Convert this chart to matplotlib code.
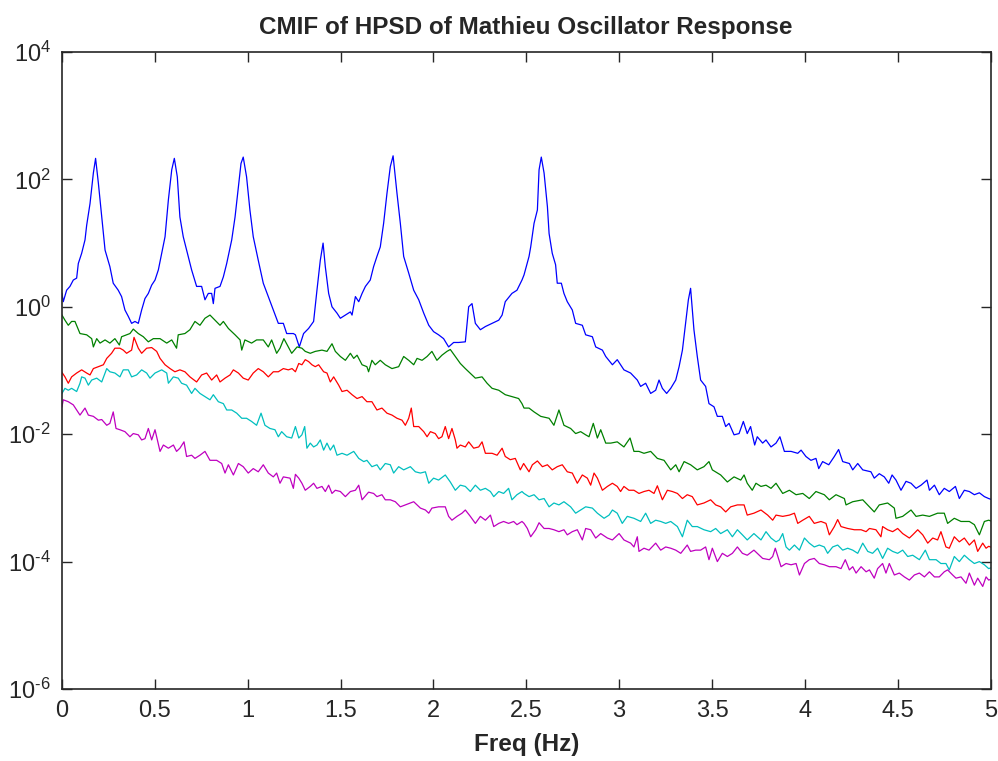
import numpy as np
import matplotlib
matplotlib.use('Agg')
import matplotlib.pyplot as plt
from matplotlib.ticker import NullLocator, FixedLocator

# (frequency in Hz, log10 of singular value)
blue = [(0.000, 0.21), (0.007, 0.08), (0.025, 0.26), (0.043, 0.32), (0.061, 0.42), (0.079, 0.45), (0.088, 0.68),
        (0.106, 0.84), (0.124, 1.05), (0.133, 1.28), (0.151, 1.62), (0.169, 2.10), (0.181, 2.33), (0.196, 1.94),
        (0.214, 1.41), (0.232, 0.89), (0.258, 0.63), (0.276, 0.37), (0.303, 0.26), (0.321, 0.16), (0.339, -0.05),
        (0.357, -0.15), (0.375, -0.26), (0.393, -0.23), (0.411, -0.26), (0.429, -0.05), (0.447, 0.13), (0.465, 0.21),
        (0.483, 0.34), (0.501, 0.42), (0.519, 0.58), (0.537, 0.84), (0.555, 1.10), (0.573, 1.68), (0.591, 2.15),
        (0.605, 2.33), (0.621, 2.04), (0.635, 1.41), (0.653, 1.10), (0.671, 0.89), (0.698, 0.58), (0.725, 0.32),
        (0.752, 0.32), (0.770, 0.11), (0.788, 0.21), (0.806, 0.21), (0.815, 0.05), (0.824, 0.29), (0.851, 0.32),
        (0.869, 0.47), (0.887, 0.68), (0.914, 1.05), (0.932, 1.41), (0.950, 1.89), (0.964, 2.25), (0.976, 2.35),
        (0.994, 2.04), (1.012, 1.52), (1.030, 1.10), (1.057, 0.73), (1.084, 0.37), (1.111, 0.16), (1.138, -0.05),
        (1.165, -0.26), (1.192, -0.26), (1.210, -0.42), (1.246, -0.42), (1.257, -0.44), (1.278, -0.63), (1.301, -0.42),
        (1.328, -0.34), (1.355, -0.23), (1.373, 0.26), (1.391, 0.73), (1.406, 1.00), (1.418, 0.63), (1.436, 0.21),
        (1.454, 0.00), (1.481, -0.10), (1.499, -0.18), (1.526, -0.13), (1.553, -0.08), (1.562, -0.13), (1.580, 0.16),
        (1.598, 0.08), (1.616, 0.21), (1.634, 0.32), (1.660, 0.42), (1.678, 0.63), (1.696, 0.79), (1.714, 0.94),
        (1.732, 1.31), (1.750, 1.78), (1.768, 2.20), (1.783, 2.37), (1.804, 1.78), (1.822, 1.31), (1.840, 0.79),
        (1.867, 0.53), (1.894, 0.26), (1.921, 0.11), (1.948, -0.10), (1.975, -0.29), (2.001, -0.39), (2.028, -0.44),
        (2.055, -0.50), (2.082, -0.63), (2.109, -0.56), (2.136, -0.56), (2.172, -0.55), (2.190, 0.00), (2.208, 0.05),
        (2.226, -0.26), (2.253, -0.36), (2.280, -0.31), (2.316, -0.26), (2.352, -0.21), (2.370, -0.13), (2.387, 0.08),
        (2.423, 0.21), (2.450, 0.26), (2.477, 0.42), (2.488, 0.50), (2.515, 0.79), (2.524, 0.94), (2.542, 1.31),
        (2.560, 1.52), (2.569, 2.15), (2.581, 2.35), (2.596, 2.10), (2.614, 1.57), (2.623, 1.15), (2.640, 0.84),
        (2.658, 0.66), (2.667, 0.37), (2.689, 0.37), (2.703, 0.21), (2.721, 0.08), (2.748, -0.05), (2.766, -0.26),
        (2.802, -0.29), (2.820, -0.44), (2.856, -0.47), (2.874, -0.63), (2.910, -0.68), (2.928, -0.78), (2.964, -0.91),
        (2.990, -0.83), (3.026, -0.99), (3.062, -1.04), (3.098, -1.15), (3.116, -1.25), (3.143, -1.20), (3.170, -1.36),
        (3.197, -1.31), (3.215, -1.15), (3.233, -1.28), (3.256, -1.36), (3.278, -1.28), (3.305, -1.15), (3.323, -0.94),
        (3.341, -0.68), (3.358, -0.26), (3.373, 0.11), (3.385, 0.29), (3.403, -0.36), (3.421, -0.78), (3.439, -1.15),
        (3.466, -1.25), (3.484, -1.52), (3.511, -1.57), (3.529, -1.72), (3.556, -1.72), (3.574, -1.88), (3.592, -1.83),
        (3.619, -2.01), (3.646, -1.99), (3.669, -1.80), (3.690, -1.99), (3.708, -1.88), (3.730, -2.17), (3.744, -2.04),
        (3.773, -2.14), (3.791, -2.09), (3.818, -2.20), (3.845, -2.14), (3.866, -2.04), (3.890, -2.27), (3.926, -2.27),
        (3.962, -2.30), (3.980, -2.25), (4.006, -2.35), (4.033, -2.41), (4.060, -2.38), (4.075, -2.54), (4.096, -2.43),
        (4.129, -2.48), (4.159, -2.35), (4.182, -2.24), (4.204, -2.43), (4.240, -2.46), (4.258, -2.56), (4.285, -2.46),
        (4.312, -2.56), (4.356, -2.59), (4.374, -2.69), (4.401, -2.62), (4.428, -2.67), (4.452, -2.77), (4.470, -2.64),
        (4.491, -2.72), (4.518, -2.88), (4.545, -2.74), (4.572, -2.77), (4.599, -2.85), (4.626, -2.80), (4.658, -2.72),
        (4.671, -2.88), (4.698, -2.80), (4.724, -2.95), (4.751, -2.85), (4.778, -2.90), (4.811, -2.82), (4.832, -3.01),
        (4.859, -2.88), (4.886, -2.90), (4.913, -2.95), (4.940, -2.92), (4.967, -2.98), (4.990, -3.01), (5.000, -3.02)]

green = [(0.000, -0.13), (0.016, -0.21), (0.034, -0.29), (0.052, -0.23), (0.070, -0.23), (0.097, -0.42), (0.133, -0.44),
         (0.160, -0.50), (0.169, -0.63), (0.187, -0.50), (0.205, -0.57), (0.232, -0.52), (0.258, -0.57), (0.285, -0.50),
         (0.309, -0.60), (0.321, -0.47), (0.348, -0.44), (0.366, -0.42), (0.384, -0.35), (0.411, -0.42), (0.438, -0.47),
         (0.465, -0.55), (0.492, -0.50), (0.528, -0.50), (0.564, -0.57), (0.591, -0.52), (0.617, -0.65), (0.626, -0.44),
         (0.662, -0.42), (0.689, -0.36), (0.716, -0.23), (0.743, -0.29), (0.770, -0.18), (0.797, -0.13), (0.824, -0.21),
         (0.851, -0.29), (0.869, -0.23), (0.896, -0.34), (0.932, -0.44), (0.959, -0.52), (0.968, -0.68), (0.985, -0.52),
         (1.021, -0.57), (1.048, -0.52), (1.084, -0.52), (1.111, -0.63), (1.129, -0.52), (1.156, -0.73), (1.174, -0.65),
         (1.195, -0.50), (1.219, -0.63), (1.237, -0.73), (1.266, -0.63), (1.292, -0.65), (1.310, -0.70), (1.337, -0.73),
         (1.364, -0.70), (1.400, -0.68), (1.427, -0.70), (1.454, -0.58), (1.472, -0.70), (1.499, -0.78), (1.526, -0.84),
         (1.553, -0.73), (1.571, -0.81), (1.589, -0.76), (1.616, -0.91), (1.642, -0.94), (1.651, -1.02), (1.669, -0.84),
         (1.687, -0.91), (1.714, -0.84), (1.741, -0.91), (1.777, -0.97), (1.813, -0.94), (1.840, -0.78), (1.867, -0.84),
         (1.894, -0.91), (1.912, -0.81), (1.939, -0.84), (1.966, -0.78), (1.992, -0.70), (2.019, -0.84), (2.046, -0.76),
         (2.073, -0.70), (2.091, -0.67), (2.118, -0.78), (2.145, -0.89), (2.172, -0.97), (2.190, -1.02), (2.226, -1.12),
         (2.262, -1.10), (2.289, -1.20), (2.316, -1.28), (2.352, -1.31), (2.387, -1.38), (2.423, -1.41), (2.459, -1.44),
         (2.477, -1.52), (2.488, -1.59), (2.515, -1.59), (2.542, -1.65), (2.578, -1.72), (2.623, -1.75), (2.649, -1.86),
         (2.676, -1.62), (2.703, -1.86), (2.739, -1.91), (2.766, -1.99), (2.793, -1.96), (2.820, -2.01), (2.838, -2.04),
         (2.861, -1.83), (2.883, -2.06), (2.901, -1.93), (2.928, -2.14), (2.955, -2.14), (2.990, -2.12), (3.026, -2.20),
         (3.059, -2.06), (3.080, -2.27), (3.107, -2.27), (3.134, -2.30), (3.170, -2.27), (3.206, -2.38), (3.242, -2.41),
         (3.278, -2.56), (3.305, -2.48), (3.323, -2.59), (3.350, -2.43), (3.385, -2.48), (3.421, -2.56), (3.457, -2.51),
         (3.484, -2.43), (3.502, -2.56), (3.547, -2.64), (3.583, -2.75), (3.619, -2.67), (3.655, -2.72), (3.673, -2.64),
         (3.690, -2.77), (3.717, -2.88), (3.737, -2.77), (3.764, -2.82), (3.791, -2.80), (3.818, -2.85), (3.845, -2.77),
         (3.881, -2.93), (3.917, -2.88), (3.953, -2.95), (3.989, -2.93), (4.024, -3.01), (4.060, -2.90), (4.105, -2.95),
         (4.132, -3.03), (4.168, -2.95), (4.213, -3.01), (4.222, -3.11), (4.258, -3.06), (4.312, -3.03), (4.348, -3.14),
         (4.374, -3.22), (4.401, -3.11), (4.446, -3.08), (4.482, -3.16), (4.491, -3.32), (4.527, -3.29), (4.572, -3.19),
         (4.599, -3.29), (4.635, -3.27), (4.671, -3.29), (4.715, -3.24), (4.751, -3.24), (4.769, -3.40), (4.805, -3.32),
         (4.841, -3.37), (4.886, -3.37), (4.913, -3.42), (4.940, -3.58), (4.967, -3.37), (4.990, -3.35), (5.000, -3.36)]

red = [(0.000, -1.03), (0.016, -1.10), (0.034, -1.20), (0.052, -1.10), (0.079, -1.04), (0.106, -0.99), (0.133, -1.04),
       (0.151, -1.07), (0.169, -0.97), (0.196, -0.94), (0.223, -0.91), (0.241, -0.81), (0.267, -0.73), (0.285, -0.65),
       (0.312, -0.65), (0.330, -0.68), (0.348, -0.73), (0.375, -0.68), (0.388, -0.48), (0.411, -0.65), (0.429, -0.73),
       (0.456, -0.65), (0.483, -0.64), (0.510, -0.70), (0.528, -0.81), (0.555, -0.91), (0.582, -0.97), (0.608, -1.02),
       (0.635, -0.99), (0.662, -1.02), (0.689, -1.10), (0.725, -1.18), (0.752, -1.07), (0.779, -1.04), (0.806, -1.15),
       (0.833, -1.07), (0.851, -1.18), (0.878, -1.12), (0.905, -1.07), (0.923, -0.99), (0.950, -1.04), (0.976, -1.12),
       (1.003, -1.15), (1.030, -1.04), (1.057, -0.97), (1.084, -1.02), (1.111, -1.10), (1.138, -1.02), (1.165, -1.02),
       (1.192, -0.97), (1.219, -0.99), (1.239, -0.97), (1.257, -1.02), (1.275, -0.89), (1.292, -0.91), (1.310, -0.83),
       (1.328, -0.86), (1.346, -0.91), (1.364, -0.94), (1.382, -0.91), (1.409, -1.02), (1.427, -1.04), (1.445, -1.18),
       (1.463, -1.10), (1.490, -1.23), (1.508, -1.33), (1.535, -1.31), (1.562, -1.38), (1.589, -1.44), (1.616, -1.41),
       (1.642, -1.49), (1.669, -1.49), (1.696, -1.62), (1.723, -1.59), (1.750, -1.67), (1.777, -1.70), (1.804, -1.75),
       (1.831, -1.78), (1.849, -1.86), (1.867, -1.75), (1.881, -1.59), (1.894, -1.88), (1.921, -1.88), (1.948, -1.96),
       (1.966, -2.04), (1.984, -1.96), (2.010, -1.99), (2.028, -2.07), (2.046, -2.04), (2.064, -1.88), (2.082, -2.07),
       (2.100, -1.91), (2.118, -2.09), (2.127, -2.22), (2.145, -2.17), (2.172, -2.20), (2.190, -2.12), (2.217, -2.22),
       (2.244, -2.20), (2.262, -2.12), (2.280, -2.30), (2.316, -2.30), (2.343, -2.33), (2.370, -2.22), (2.387, -2.35),
       (2.414, -2.40), (2.441, -2.38), (2.468, -2.56), (2.486, -2.46), (2.515, -2.59), (2.533, -2.48), (2.560, -2.42),
       (2.587, -2.51), (2.614, -2.48), (2.640, -2.56), (2.667, -2.51), (2.694, -2.48), (2.721, -2.59), (2.748, -2.61),
       (2.775, -2.77), (2.802, -2.64), (2.829, -2.69), (2.847, -2.80), (2.865, -2.61), (2.883, -2.69), (2.910, -2.88),
       (2.937, -2.82), (2.964, -2.77), (2.990, -2.82), (3.008, -2.90), (3.026, -2.82), (3.053, -2.88), (3.080, -2.88),
       (3.107, -2.93), (3.134, -2.90), (3.161, -2.88), (3.188, -2.93), (3.206, -2.81), (3.233, -3.03), (3.260, -2.88),
       (3.287, -2.90), (3.314, -2.93), (3.341, -3.01), (3.367, -2.95), (3.394, -2.98), (3.421, -3.11), (3.457, -3.08),
       (3.493, -3.03), (3.520, -3.11), (3.547, -3.14), (3.574, -3.22), (3.601, -3.14), (3.637, -3.11), (3.673, -3.11),
       (3.690, -3.27), (3.726, -3.24), (3.764, -3.19), (3.800, -3.27), (3.827, -3.35), (3.845, -3.27), (3.881, -3.29),
       (3.917, -3.27), (3.944, -3.24), (3.962, -3.40), (3.989, -3.35), (4.024, -3.29), (4.051, -3.40), (4.087, -3.37),
       (4.114, -3.40), (4.132, -3.58), (4.159, -3.45), (4.177, -3.34), (4.195, -3.45), (4.231, -3.48), (4.267, -3.50),
       (4.303, -3.50), (4.330, -3.53), (4.348, -3.48), (4.383, -3.50), (4.410, -3.61), (4.419, -3.45), (4.446, -3.50),
       (4.473, -3.53), (4.500, -3.48), (4.527, -3.56), (4.563, -3.63), (4.581, -3.58), (4.608, -3.50), (4.635, -3.58),
       (4.662, -3.71), (4.689, -3.63), (4.715, -3.66), (4.733, -3.53), (4.760, -3.77), (4.778, -3.79), (4.805, -3.61),
       (4.832, -3.69), (4.859, -3.63), (4.886, -3.74), (4.913, -3.66), (4.931, -3.84), (4.958, -3.71), (4.976, -3.79),
       (4.990, -3.76), (5.000, -3.77)]

cyan = [(0.000, -1.36), (0.016, -1.28), (0.034, -1.31), (0.052, -1.28), (0.079, -1.33), (0.097, -1.20), (0.106, -1.10),
        (0.124, -1.12), (0.142, -1.23), (0.160, -1.15), (0.187, -1.12), (0.214, -1.18), (0.241, -0.97), (0.258, -1.02),
        (0.285, -1.04), (0.312, -1.10), (0.330, -0.99), (0.357, -0.99), (0.375, -1.10), (0.402, -1.07), (0.429, -0.99),
        (0.456, -1.04), (0.474, -1.12), (0.501, -1.04), (0.537, -0.99), (0.564, -1.04), (0.573, -1.20), (0.600, -1.10),
        (0.626, -1.12), (0.644, -1.20), (0.671, -1.23), (0.698, -1.36), (0.716, -1.28), (0.743, -1.36), (0.770, -1.41),
        (0.797, -1.46), (0.815, -1.38), (0.842, -1.49), (0.869, -1.52), (0.887, -1.62), (0.914, -1.62), (0.941, -1.67),
        (0.968, -1.75), (0.994, -1.75), (1.021, -1.80), (1.048, -1.86), (1.072, -1.67), (1.093, -1.86), (1.120, -1.91),
        (1.147, -1.93), (1.165, -2.04), (1.183, -1.96), (1.210, -2.04), (1.237, -2.06), (1.257, -1.88), (1.275, -2.06),
        (1.292, -2.01), (1.307, -1.88), (1.319, -2.22), (1.337, -2.14), (1.355, -2.20), (1.373, -2.17), (1.391, -2.09),
        (1.409, -2.25), (1.427, -2.14), (1.445, -2.25), (1.463, -2.17), (1.481, -2.33), (1.508, -2.30), (1.535, -2.33),
        (1.571, -2.27), (1.598, -2.38), (1.625, -2.43), (1.642, -2.41), (1.669, -2.51), (1.696, -2.48), (1.714, -2.56),
        (1.741, -2.46), (1.768, -2.48), (1.786, -2.61), (1.813, -2.51), (1.840, -2.56), (1.876, -2.51), (1.903, -2.59),
        (1.930, -2.61), (1.957, -2.59), (1.975, -2.77), (2.001, -2.69), (2.028, -2.72), (2.064, -2.64), (2.091, -2.75),
        (2.118, -2.88), (2.145, -2.80), (2.172, -2.82), (2.199, -2.90), (2.226, -2.80), (2.253, -2.88), (2.280, -2.85),
        (2.307, -2.90), (2.325, -2.98), (2.352, -2.90), (2.378, -2.93), (2.405, -2.85), (2.423, -3.03), (2.450, -2.95),
        (2.477, -2.90), (2.488, -2.93), (2.515, -2.98), (2.542, -2.95), (2.569, -3.03), (2.596, -3.01), (2.623, -3.14),
        (2.649, -3.08), (2.676, -3.11), (2.703, -3.06), (2.739, -3.14), (2.766, -3.24), (2.793, -3.19), (2.820, -3.14),
        (2.856, -3.16), (2.883, -3.24), (2.919, -3.32), (2.946, -3.27), (2.964, -3.19), (2.990, -3.24), (3.017, -3.40),
        (3.044, -3.29), (3.080, -3.32), (3.116, -3.37), (3.143, -3.24), (3.170, -3.40), (3.197, -3.35), (3.224, -3.37),
        (3.251, -3.40), (3.278, -3.37), (3.314, -3.45), (3.341, -3.61), (3.367, -3.35), (3.394, -3.45), (3.421, -3.45),
        (3.457, -3.50), (3.493, -3.53), (3.520, -3.48), (3.547, -3.56), (3.583, -3.50), (3.610, -3.61), (3.637, -3.50),
        (3.664, -3.58), (3.690, -3.66), (3.726, -3.56), (3.764, -3.66), (3.791, -3.53), (3.818, -3.63), (3.845, -3.69),
        (3.863, -3.66), (3.881, -3.56), (3.899, -3.77), (3.917, -3.82), (3.944, -3.74), (3.971, -3.82), (3.998, -3.63),
        (4.024, -3.71), (4.051, -3.77), (4.078, -3.74), (4.105, -3.77), (4.123, -3.87), (4.150, -3.77), (4.177, -3.74),
        (4.204, -3.82), (4.231, -3.79), (4.258, -3.82), (4.285, -3.87), (4.312, -3.71), (4.339, -3.84), (4.365, -3.87),
        (4.392, -3.79), (4.419, -3.95), (4.446, -3.79), (4.473, -3.84), (4.500, -3.87), (4.527, -3.82), (4.554, -3.92),
        (4.581, -3.90), (4.617, -3.97), (4.649, -3.82), (4.671, -3.97), (4.707, -3.97), (4.733, -4.03), (4.760, -4.03),
        (4.778, -4.13), (4.805, -3.92), (4.832, -4.00), (4.859, -3.90), (4.886, -3.97), (4.913, -4.03), (4.940, -4.00),
        (4.967, -4.05), (4.990, -4.11), (5.000, -4.10)]

magenta = [(0.000, -1.57), (0.007, -1.46), (0.034, -1.49), (0.061, -1.54), (0.079, -1.62), (0.097, -1.70), (0.124, -1.59),
           (0.142, -1.70), (0.169, -1.72), (0.196, -1.78), (0.214, -1.77), (0.241, -1.86), (0.258, -1.83), (0.276, -1.65),
           (0.291, -1.91), (0.312, -1.93), (0.339, -1.96), (0.366, -2.04), (0.384, -1.99), (0.411, -2.01), (0.429, -2.09),
           (0.447, -2.07), (0.465, -1.91), (0.483, -2.09), (0.501, -1.93), (0.528, -2.27), (0.546, -2.17), (0.573, -2.22),
           (0.600, -2.17), (0.617, -2.27), (0.635, -2.22), (0.657, -2.12), (0.671, -2.35), (0.698, -2.33), (0.716, -2.38),
           (0.743, -2.33), (0.770, -2.27), (0.797, -2.41), (0.833, -2.41), (0.860, -2.46), (0.878, -2.61), (0.896, -2.48),
           (0.923, -2.64), (0.950, -2.46), (0.976, -2.51), (1.003, -2.61), (1.030, -2.54), (1.057, -2.59), (1.084, -2.48),
           (1.111, -2.61), (1.138, -2.67), (1.156, -2.61), (1.174, -2.77), (1.192, -2.67), (1.228, -2.69), (1.246, -2.85),
           (1.257, -2.63), (1.275, -2.69), (1.292, -2.77), (1.310, -2.88), (1.337, -2.82), (1.355, -2.77), (1.373, -2.85),
           (1.400, -2.82), (1.418, -2.90), (1.436, -2.80), (1.454, -2.93), (1.472, -2.88), (1.499, -2.90), (1.526, -2.98),
           (1.553, -2.90), (1.580, -2.88), (1.598, -2.80), (1.616, -3.03), (1.651, -2.91), (1.678, -2.93), (1.696, -2.98),
           (1.723, -2.95), (1.741, -3.03), (1.768, -3.03), (1.795, -3.06), (1.822, -3.14), (1.849, -3.11), (1.876, -3.08),
           (1.894, -3.06), (1.930, -3.16), (1.957, -3.19), (1.975, -3.24), (1.992, -3.16), (2.028, -3.14), (2.064, -3.14),
           (2.082, -3.29), (2.100, -3.35), (2.127, -3.29), (2.154, -3.24), (2.172, -3.19), (2.199, -3.29), (2.226, -3.40),
           (2.253, -3.29), (2.280, -3.35), (2.307, -3.27), (2.325, -3.45), (2.352, -3.40), (2.378, -3.37), (2.405, -3.40),
           (2.432, -3.37), (2.450, -3.42), (2.477, -3.37), (2.488, -3.40), (2.506, -3.48), (2.524, -3.61), (2.551, -3.50),
           (2.569, -3.39), (2.596, -3.48), (2.623, -3.48), (2.649, -3.50), (2.676, -3.53), (2.703, -3.50), (2.721, -3.58),
           (2.748, -3.53), (2.775, -3.50), (2.802, -3.66), (2.820, -3.48), (2.847, -3.50), (2.874, -3.63), (2.901, -3.56),
           (2.937, -3.63), (2.964, -3.66), (3.000, -3.56), (3.026, -3.66), (3.062, -3.71), (3.080, -3.77), (3.098, -3.61),
           (3.107, -3.84), (3.134, -3.79), (3.161, -3.82), (3.197, -3.71), (3.224, -3.82), (3.251, -3.77), (3.278, -3.79),
           (3.305, -3.82), (3.332, -3.87), (3.367, -3.74), (3.385, -3.84), (3.412, -3.82), (3.439, -3.82), (3.466, -3.77),
           (3.484, -3.97), (3.502, -3.79), (3.529, -4.00), (3.556, -3.87), (3.583, -3.92), (3.610, -3.87), (3.637, -3.77),
           (3.664, -3.87), (3.690, -3.90), (3.726, -3.82), (3.773, -3.95), (3.809, -3.97), (3.827, -3.92), (3.841, -3.79),
           (3.872, -4.08), (3.899, -4.03), (3.926, -4.05), (3.953, -4.03), (3.971, -4.21), (3.998, -4.03), (4.024, -3.97),
           (4.051, -3.95), (4.078, -4.03), (4.105, -4.05), (4.132, -4.08), (4.168, -4.08), (4.195, -4.11), (4.218, -3.97),
           (4.240, -4.13), (4.258, -4.08), (4.276, -4.18), (4.303, -4.08), (4.330, -4.16), (4.348, -4.13), (4.374, -4.26),
           (4.392, -4.11), (4.419, -4.03), (4.437, -4.18), (4.455, -4.03), (4.482, -4.21), (4.509, -4.18), (4.536, -4.24),
           (4.563, -4.29), (4.590, -4.21), (4.617, -4.18), (4.644, -4.24), (4.671, -4.16), (4.698, -4.24), (4.724, -4.24),
           (4.751, -4.16), (4.769, -4.13), (4.796, -4.21), (4.814, -4.26), (4.841, -4.24), (4.868, -4.34), (4.886, -4.18),
           (4.913, -4.37), (4.931, -4.26), (4.958, -4.39), (4.976, -4.24), (4.990, -4.29), (5.000, -4.28)]

series = [(blue, (0, 0, 1)), (green, (0, 0.5, 0)), (red, (1, 0, 0)),
          (cyan, (0, 0.75, 0.75)), (magenta, (0.75, 0, 0.75))]

xticks = [0, 0.5, 1, 1.5, 2, 2.5, 3, 3.5, 4, 4.5, 5]
xticklabels = ['0', '0.5', '1', '1.5', '2', '2.5', '3', '3.5', '4', '4.5', '5']
yexp = [-6, -4, -2, 0, 2, 4]

plt.rcParams['font.family'] = ['Liberation Sans', 'DejaVu Sans']
plt.rcParams['mathtext.fontset'] = 'custom'
plt.rcParams['mathtext.rm'] = 'Liberation Sans'
plt.rcParams['mathtext.default'] = 'regular'

fig = plt.figure(figsize=(9.98, 7.61), dpi=100)
ax = fig.add_axes([0.0621, 0.0946, 0.9304, 0.8371])

for data, col in series:
    f = np.array([p[0] for p in data])
    s = 10.0 ** np.array([p[1] for p in data])
    ax.semilogy(f, s, '-', color=col, lw=0.9)

ax.set_xlim(0, 5)
ax.set_ylim(1e-6, 1e4)
ax.xaxis.set_major_locator(FixedLocator(xticks))
ax.set_xticklabels(xticklabels)
ax.yaxis.set_major_locator(FixedLocator([10.0 ** e for e in yexp]))
ylabels = []
for e in yexp:
    ex = ('\u2010%d' % -e) if e < 0 else '%d' % e
    ylabels.append(r'$10^{\mathregular{%s}}$' % ex)
ax.set_yticklabels(ylabels)
ax.yaxis.set_minor_locator(NullLocator())
ax.xaxis.set_minor_locator(NullLocator())

ax.tick_params(direction='in', top=True, right=True, length=7, width=1,
               labelsize=17, colors='#262626', pad=8)
for sp in ax.spines.values():
    sp.set_linewidth(1.2)
    sp.set_color('#262626')

ax.set_title('CMIF of HPSD of Mathieu Oscillator Response', fontsize=17.5,
             fontweight='bold', color='#262626', pad=13)
ax.set_xlabel('Freq (Hz)', fontsize=17.5, fontweight='bold', color='#262626', labelpad=8)

fig.savefig('out.png', dpi=100)
